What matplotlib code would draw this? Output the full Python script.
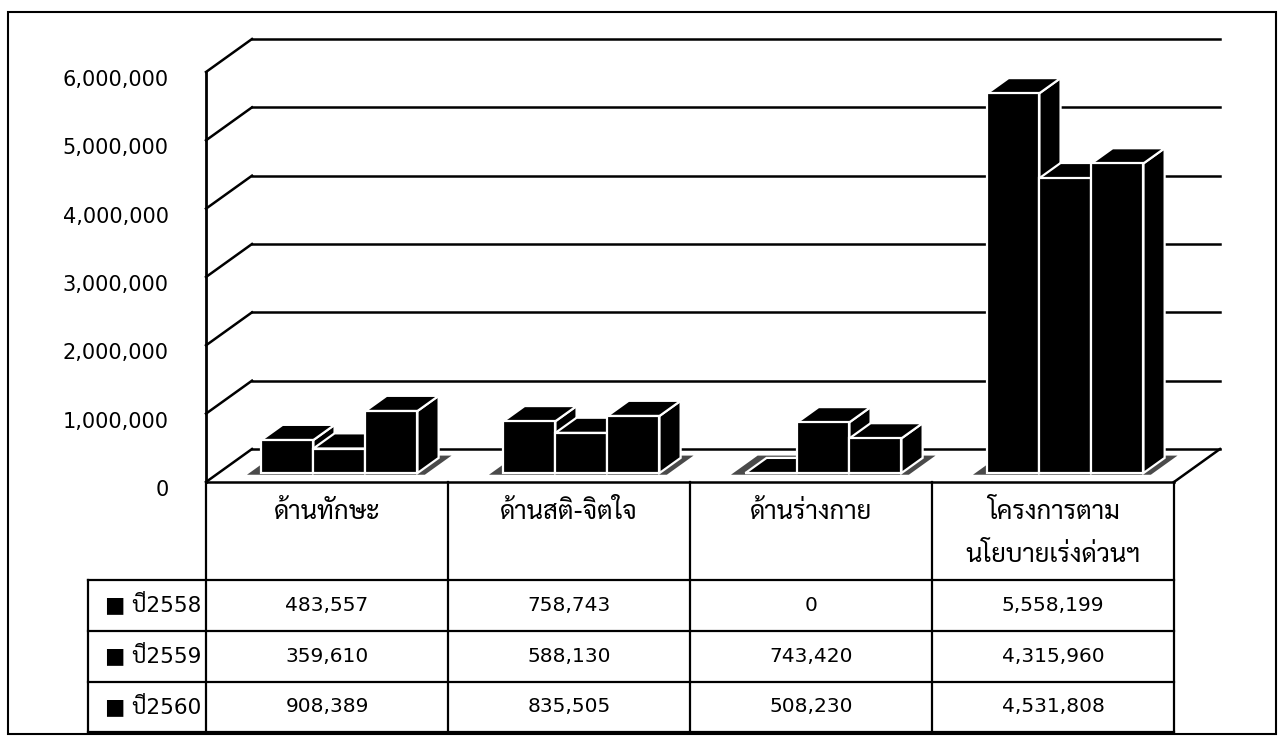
import matplotlib
matplotlib.use("Agg")
import matplotlib.pyplot as plt
from matplotlib.patches import Polygon, Rectangle
from matplotlib.lines import Line2D
from matplotlib.ticker import FuncFormatter
from matplotlib.transforms import blended_transform_factory, ScaledTranslation

plt.rcParams['font.family'] = ['DejaVu Sans', 'Sarabun']

# ข้อมูล
categories = ["ด้านทักษะ", "ด้านสติ-จิตใจ", "ด้านร่างกาย", "โครงการตาม\nนโยบายเร่งด่วนฯ"]
series = ["ปี2558", "ปี2559", "ปี2560"]
y2558 = [483557, 758743, 0, 5558199]
y2559 = [359610, 588130, 743420, 4315960]
y2560 = [908389, 835505, 508230, 4531808]
values = [y2558, y2559, y2560]
yticks = [0, 1000000, 2000000, 3000000, 4000000, 5000000, 6000000]

W, H = 1280, 738
fig = plt.figure(figsize=(W / 100, H / 100), dpi=100)

def fx(x):
    return x / W

def fy(y):
    return 1 - y / H

# plot area (front plane): x 206..1174 px, value 0 at y=482, 6M at y=72
ax = fig.add_axes([fx(206), fy(482), fx(1174) - fx(206), fy(72) - fy(482)])
ax.set_xlim(0, 4)
ax.set_ylim(0, 6000000)
ax.patch.set_visible(False)
for s in ["top", "right", "bottom"]:
    ax.spines[s].set_visible(False)
ax.spines["left"].set_linewidth(2)
ax.set_xticks([])
ax.set_yticks(yticks)
ax.yaxis.set_major_formatter(FuncFormatter(lambda v, p: f"{int(v):,}"))
ax.tick_params(axis="y", length=0, pad=27, labelsize=15)
for lab in ax.get_yticklabels():
    lab.set_transform(lab.get_transform() + ScaledTranslation(0, -0.06, fig.dpi_scale_trans))

# depth offset (data units)
DX = 46 / 242
DY = 33 / 68.33 * 1e6

# walls / gridlines
for t in yticks:
    ax.add_line(Line2D([0, DX], [t, t + DY], color="black", lw=1.8, clip_on=False))
    ax.add_line(Line2D([DX, 4 + DX], [t + DY, t + DY], color="black", lw=1.8, clip_on=False))
# floor
ax.add_line(Line2D([0, 4], [0, 0], color="black", lw=1.8, clip_on=False))
ax.add_line(Line2D([4, 4 + DX], [0, DY], color="black", lw=1.8, clip_on=False))

# bars
w = 0.215
off = (1 - 3 * w) / 2
f0, f1 = 0.27, 0.73
for i in range(len(categories)):
    # เงาบนพื้น
    g0 = i + off - 0.05
    g1 = i + off + 3 * w + 0.04
    ax.add_patch(Polygon([(g0 + 0.22 * DX, 0.22 * DY), (g1 + 0.22 * DX, 0.22 * DY),
                          (g1 + 0.8 * DX, 0.8 * DY), (g0 + 0.8 * DX, 0.8 * DY)],
                         closed=True, facecolor="#4a4a4a", edgecolor="none",
                         clip_on=False, zorder=2))
    for j in range(len(series)):
        v = values[j][i]
        x0 = i + off + j * w
        a0, b0 = x0 + f0 * DX, f0 * DY
        a1, b1 = x0 + f1 * DX, f1 * DY
        front = [(a0, b0), (a0 + w, b0), (a0 + w, b0 + v), (a0, b0 + v)]
        top = [(a0, b0 + v), (a0 + w, b0 + v), (a1 + w, b1 + v), (a1, b1 + v)]
        side = [(a0 + w, b0), (a1 + w, b1), (a1 + w, b1 + v), (a0 + w, b0 + v)]
        for poly in (side, top, front):
            ax.add_patch(Polygon(poly, closed=True, facecolor="black", edgecolor="white",
                                 lw=1.6, joinstyle="miter", clip_on=False, zorder=3))

# data table
tr = blended_transform_factory(ax.transData, fig.transFigure)
row_y = [580, 631, 682, 732]
lab_left = 88
for k in range(5):
    fig.add_artist(Line2D([k, k], [fy(482), fy(732)], transform=tr, color="black", lw=1.6))
for y in row_y:
    fig.add_artist(Line2D([fx(lab_left), ax.transData.transform((4, 0))[0] / W],
                          [fy(y), fy(y)], color="black", lw=1.6))
fig.add_artist(Line2D([fx(lab_left), fx(lab_left)], [fy(580), fy(732)], color="black", lw=1.6))

for i, c in enumerate(categories):
    if "\n" in c:
        l1, l2 = c.split("\n")
        fig.text(i + 0.5, fy(512), l1, transform=tr, ha="center", va="center", fontsize=18.5)
        fig.text(i + 0.5, fy(555), l2, transform=tr, ha="center", va="center", fontsize=18.5)
    else:
        fig.text(i + 0.5, fy(512), c, transform=tr, ha="center", va="center", fontsize=18.5)

for j, s in enumerate(series):
    yc = (row_y[j] + row_y[j + 1]) / 2
    fig.text(fx(201), fy(yc - 2), "■ " + s, ha="right", va="center", fontsize=15.5)
    for i in range(len(categories)):
        fig.text(i + 0.5, fy(yc), f"{values[j][i]:,}", transform=tr,
                 ha="center", va="center", fontsize=14.5)

# outer frame
fig.add_artist(Rectangle((fx(8), fy(734)), fx(1276) - fx(8), fy(12) - fy(734),
                         transform=fig.transFigure, fill=False, edgecolor="black", lw=1.5))

fig.savefig("out.png", dpi=100)
